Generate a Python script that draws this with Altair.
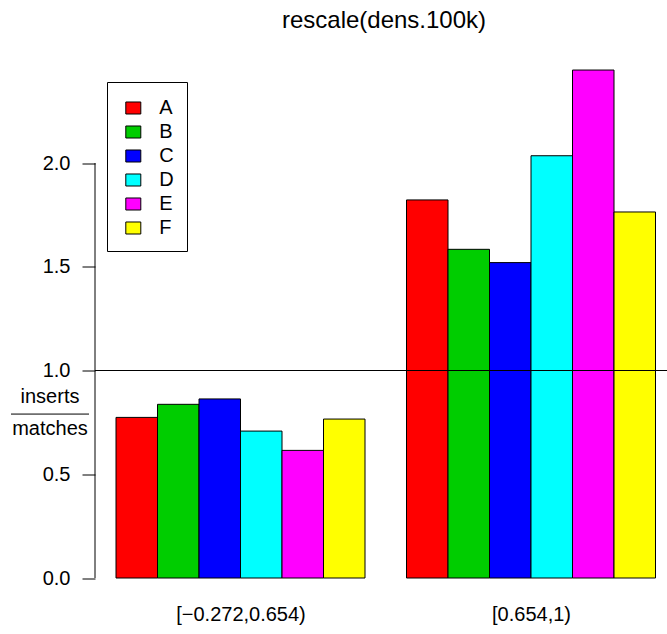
import altair as alt
import pandas as pd

# ---- data ----
groups = ["[\u22120.272,0.654)", "[0.654,1)"]
series = ["A", "B", "C", "D", "E", "F"]
colors = ["#FF0000", "#00CD00", "#0000FF", "#00FFFF", "#FF00FF", "#FFFF00"]
values_g1 = [0.774, 0.837, 0.863, 0.708, 0.615, 0.766]
values_g2 = [1.822, 1.584, 1.520, 2.035, 2.448, 1.764]
y_ticks = [0.0, 0.5, 1.0, 1.5, 2.0]
title_text = "rescale(dens.100k)"
ylab_num = "inserts"
ylab_den = "matches"

FONT = "Liberation Sans"

# bars laid out like R's barplot(beside=TRUE): one bar-width gap before each group
rows = []
for g, vals in enumerate([values_g1, values_g2]):
    for i, (s, v) in enumerate(zip(series, vals)):
        start = 1 + g * (len(series) + 1) + i
        rows.append({"group": groups[g], "series": s, "value": v,
                     "start": start, "end": start + 1})
df = pd.DataFrame(rows)
one = pd.DataFrame({"k": [0]})

group_centers = [1 + g * (len(series) + 1) + len(series) / 2 for g in range(len(groups))]
label_expr = " : ".join(
    [f"datum.value == {c} ? '{lab}'" for c, lab in zip(group_centers, groups)] + ["''"]
)

W = 572
H = 539.5
U = 41.5  # px per bar unit
x_dom = [1 - 21 / U, 1 + (W - 21) / U]
y_dom = [0, 2.6]

xs = alt.Scale(domain=x_dom, nice=False, zero=False)
ys = alt.Scale(domain=y_dom, nice=False, zero=False)

bars = alt.Chart(df).mark_rect(stroke="black", strokeWidth=1).encode(
    x=alt.X("start:Q", scale=xs,
            axis=alt.Axis(values=group_centers, labelExpr=label_expr, title=None,
                          domain=False, ticks=False, tickSize=0, grid=False,
                          labelFont=FONT, labelFontSize=20, labelColor="black",
                          labelBaseline="middle", labelPadding=36, labelFlush=False)),
    x2="end:Q",
    y=alt.Y("value:Q", scale=ys,
            axis=alt.Axis(values=y_ticks, format=".1f", title=None, domain=False,
                          grid=False, tickSize=13, tickColor="black", tickWidth=1,
                          labelFont=FONT, labelFontSize=20, labelColor="black",
                          labelPadding=12)),
    y2=alt.datum(0),
    fill=alt.Fill("series:N",
                  scale=alt.Scale(domain=series, range=colors),
                  legend=alt.Legend(
                      title=None, orient="none", legendX=12, legendY=43.5,
                      symbolType="M-0.586,-0.469H0.586V0.469H-0.586Z",
                      symbolSize=655, symbolStrokeColor="black",
                      symbolStrokeWidth=1, symbolOffset=0.3,
                      labelFont=FONT, labelFontSize=20, labelColor="black",
                      labelOffset=12.5, rowPadding=0, padding=12.5,
                      strokeColor="black", fillColor="white")),
)

hline = alt.Chart(one).mark_rule(color="black", strokeWidth=1).encode(
    y=alt.datum(1, scale=ys))

yline = alt.Chart(one).mark_rule(color="black", strokeWidth=1).encode(
    x=alt.value(0), y=alt.datum(y_ticks[0], scale=ys), y2=alt.datum(y_ticks[-1]))

num = alt.Chart(one).mark_text(font=FONT, fontSize=20, color="black",
                               baseline="middle", align="center").encode(
    x=alt.value(-45), y=alt.datum(0.872, scale=ys), text=alt.value(ylab_num))
den = alt.Chart(one).mark_text(font=FONT, fontSize=20, color="black",
                               baseline="middle", align="center").encode(
    x=alt.value(-45), y=alt.datum(0.718, scale=ys), text=alt.value(ylab_den))
frac = alt.Chart(one).mark_rule(color="black", strokeWidth=1).encode(
    x=alt.value(-84), x2=alt.value(-6), y=alt.datum(0.79, scale=ys))

chart = alt.layer(bars, hline, yline, num, den, frac).properties(
    width=W, height=H,
    background="white",
    title=alt.TitleParams(title_text, font=FONT, fontSize=24, fontWeight="normal",
                          color="black", anchor="middle", baseline="alphabetic",
                          frame="group", offset=10.5, dx=3, dy=24),
    padding={"left": 95, "top": 38.5, "right": 0, "bottom": 56},
    autosize=alt.AutoSizeParams(type="none"),
).configure_view(strokeWidth=0, stroke="transparent")

chart.save("out.html", embed_options={"renderer": "svg", "actions": False})
